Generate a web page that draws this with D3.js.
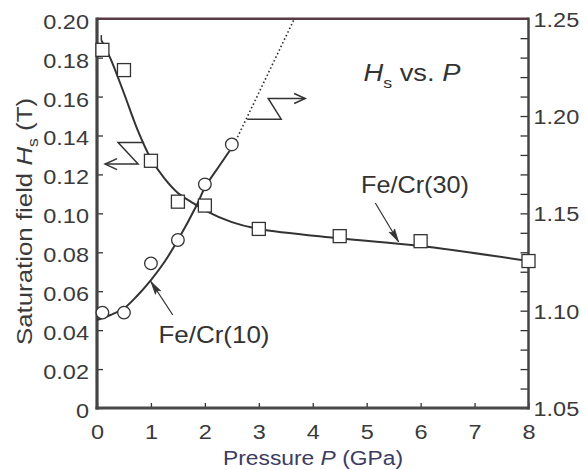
<!DOCTYPE html>
<html><head><meta charset="utf-8">
<script src="https://cdn.jsdelivr.net/npm/d3@7"></script>
<style>html,body{margin:0;padding:0;background:#fff;} svg{display:block;font-family:"Liberation Sans",Arial,sans-serif;}</style>
</head><body><svg id="c" width="587" height="470"></svg>
<script>
// ---- data ----
const sqPressure = [0.1, 0.5, 1.0, 1.5, 2.0, 3.0, 4.5, 6.0, 8.0];          // Fe/Cr(30), left axis
const sqHs       = [0.184, 0.1736, 0.127, 0.106, 0.104, 0.092, 0.0883, 0.0857, 0.0755];
const ciPressure = [0.1, 0.5, 1.0, 1.5, 2.0, 2.5];                           // Fe/Cr(10), right axis
const ciHs       = [1.099, 1.099, 1.1243, 1.1363, 1.1649, 1.1854];
const fit30P = [0.08, 0.25, 0.5, 0.75, 1.0, 1.25, 1.5, 1.8, 2.0, 2.5, 3.0, 4.5, 6.0, 8.0];
const fit30H = [0.189, 0.1795, 0.1617, 0.143, 0.128, 0.118, 0.1105, 0.105, 0.1015, 0.0955, 0.092, 0.0872, 0.0832, 0.0755];
const fit10P = [0.0, 0.25, 0.5, 0.75, 1.0, 1.25, 1.5, 1.85, 2.0, 2.25, 2.54];
const fit10H = [1.0952, 1.0978, 1.1012, 1.1078, 1.1157, 1.125, 1.1363, 1.1543, 1.1633, 1.1737, 1.1854];
const extrapP = [2.54, 3.66];
const extrapH = [1.1854, 1.25];
const xTicks = [0, 1, 2, 3, 4, 5, 6, 7, 8];
const xTickLabels = ["0", "1", "2", "3", "4", "5", "6", "7", "8"];
const leftTicks = [0, 0.02, 0.04, 0.06, 0.08, 0.10, 0.12, 0.14, 0.16, 0.18, 0.20];
const leftTickLabels = ["0", "0.02", "0.04", "0.06", "0.08", "0.10", "0.12", "0.14", "0.16", "0.18", "0.20"];
const rightMinorTicks = [1.05,1.06,1.07,1.08,1.09,1.10,1.11,1.12,1.13,1.14,1.15,1.16,1.17,1.18,1.19,1.20,1.21,1.22,1.23,1.24,1.25];
const rightTicks = [1.05, 1.10, 1.15, 1.20, 1.25];
const rightTickLabels = ["1.05", "1.10", "1.15", "1.20", "1.25"];

// ---- scales ----
const x  = d3.scaleLinear().domain([0, 8]).range([97, 528.5]);
const yL = d3.scaleLinear().domain([0, 0.2]).range([408, 18.7]);
const yR = d3.scaleLinear().domain([1.05, 1.25]).range([408, 18.7]);
const svg = d3.select('#c');
const ink = '#333';
const txt = '#3a3a3a';

// ---- axes ----
const gL = svg.append('g').attr('transform', `translate(${x(0)},0)`)
  .call(d3.axisLeft(yL).tickValues(leftTicks).tickFormat((d, i) => leftTickLabels[i]).tickSize(-6).tickPadding(8));
gL.selectAll('text').attr('x', 0).attr('dy', '0.45em')
  .attr('transform', 'translate(-8,0) scale(1.12,1)');

const gB = svg.append('g').attr('transform', `translate(0,${yL(0)})`)
  .call(d3.axisBottom(x).tickValues(xTicks).tickFormat((d, i) => xTickLabels[i]).tickSize(-5).tickPadding(16));
gB.selectAll('text').attr('y', 0)
  .attr('transform', 'translate(0,16) scale(1.12,1)');

const gR = svg.append('g').attr('transform', `translate(${x(8)},0)`)
  .call(d3.axisRight(yR).tickValues(rightMinorTicks)
    .tickFormat(d => { const i = rightTicks.findIndex(v => Math.abs(v - d) < 1e-9); return i >= 0 ? rightTickLabels[i] : ''; })
    .tickSize(-8).tickPadding(5));
gR.selectAll('text').attr('x', 0).attr('dy', '0.35em')
  .attr('transform', 'translate(5,0) scale(1.12,1)');

[gL, gB, gR].forEach(g => {
  g.select('.domain').remove();
  g.selectAll('line').attr('stroke', ink).attr('stroke-width', 1.3);
  g.selectAll('text').attr('fill', txt).style('font-size', '21px').style('font-family', '"Liberation Sans",Arial,sans-serif');
});

// ---- frame ----
svg.append('line').attr('x1', x(0)).attr('x2', x(8)).attr('y1', yL(0.2)).attr('y2', yL(0.2))
  .attr('stroke', '#583a47').attr('stroke-width', 2.5);
svg.append('line').attr('x1', x(0) - 1.5).attr('x2', x(8) + 1).attr('y1', yL(0)).attr('y2', yL(0))
  .attr('stroke', '#4a4a4a').attr('stroke-width', 3);
svg.append('line').attr('x1', x(0)).attr('x2', x(0)).attr('y1', yL(0.2) - 1.2).attr('y2', yL(0) + 1.5)
  .attr('stroke', '#444').attr('stroke-width', 3.2);
svg.append('line').attr('x1', x(8)).attr('x2', x(8)).attr('y1', yL(0.2) - 1.2).attr('y2', yL(0) + 1.5)
  .attr('stroke', '#444').attr('stroke-width', 2.5);

// ---- curves ----
const line30 = d3.line().x((d, i) => x(fit30P[i])).y(d => yL(d)).curve(d3.curveCatmullRom.alpha(0.5));
svg.append('path').attr('d', line30(fit30H)).attr('fill', 'none').attr('stroke', ink).attr('stroke-width', 2);
const line10 = d3.line().x((d, i) => x(fit10P[i])).y(d => yR(d)).curve(d3.curveCatmullRom.alpha(0.5));
svg.append('path').attr('d', line10(fit10H)).attr('fill', 'none').attr('stroke', ink).attr('stroke-width', 2);
const lineEx = d3.line().x((d, i) => x(extrapP[i])).y(d => yR(d));
svg.append('path').attr('d', lineEx(extrapH)).attr('fill', 'none').attr('stroke', ink)
  .attr('stroke-width', 1.6).attr('stroke-dasharray', '1.6,2.4');
// short start tick of the Fe/Cr(30) fit
svg.append('line').attr('x1', x(fit30P[0])).attr('x2', x(fit30P[0])).attr('y1', yL(fit30H[0])).attr('y2', yL(fit30H[0]) - 5)
  .attr('stroke', ink).attr('stroke-width', 1.5);

// ---- markers ----
svg.append('g').selectAll('rect').data(sqHs).join('rect')
  .attr('x', (d, i) => x(sqPressure[i]) - 6.5).attr('y', d => yL(d) - 6.5)
  .attr('width', 13).attr('height', 13)
  .attr('fill', '#fff').attr('stroke', ink).attr('stroke-width', 1.3);
svg.append('g').selectAll('circle').data(ciHs).join('circle')
  .attr('cx', (d, i) => x(ciPressure[i])).attr('cy', d => yR(d)).attr('r', 6.3)
  .attr('fill', '#fff').attr('stroke', ink).attr('stroke-width', 1.3);

// ---- annotation helpers ----
function head(tip, from, len, hw, filled) {
  const dx = tip[0] - from[0], dy = tip[1] - from[1], L = Math.hypot(dx, dy);
  const ux = dx / L, uy = dy / L, bx = tip[0] - ux * len, by = tip[1] - uy * len;
  const p1 = [bx - uy * hw, by + ux * hw], p2 = [bx + uy * hw, by - ux * hw];
  if (filled) {
    svg.append('path').attr('d', `M${p1}L${tip}L${p2}L${tip[0] - ux * len * 0.8},${tip[1] - uy * len * 0.8}Z`)
      .attr('fill', ink).attr('stroke', ink).attr('stroke-width', 0.8);
  } else {
    svg.append('path').attr('d', `M${p1}L${tip}L${p2}`).attr('fill', 'none').attr('stroke', ink).attr('stroke-width', 1.5);
  }
}
function poly(pts, w) {
  svg.append('path').attr('d', 'M' + pts.map(p => p.join(',')).join('L')).attr('fill', 'none')
    .attr('stroke', ink).attr('stroke-width', w || 1.5);
}

// left "Z" arrow -> left axis
{
  const t = [x(0.15), yL(0.1253)];
  const pts = [[t[0] + 39, t[1] - 21.5], [t[0] + 13, t[1] - 21.5], [t[0] + 33, t[1]], [t[0], t[1]]];
  poly(pts);
  head(t, [t[0] + 10, t[1]], 12, 5.5, false);
}
// right "Z" arrow -> right axis
{
  const t = [x(3.86), yR(1.209)];
  const pts = [[t[0] - 58, t[1] + 20.7], [t[0] - 24, t[1] + 20.7], [t[0] - 37, t[1]], [t[0], t[1]]];
  poly(pts);
  head(t, [t[0] - 10, t[1]], 11, 5, false);
}
// Fe/Cr(30) pointer
{
  const tip = [x(5.59), yL(0.0854)], tail = [x(5.16), yL(0.1053)];
  poly([tail, tip], 1.2);
  head(tip, tail, 13, 3.2, true);
}
// Fe/Cr(10) pointer
{
  const tip = [x(1.0), yR(1.1149)], tail = [x(1.405), yR(1.0978)];
  poly([tail, tip], 1.2);
  head(tip, tail, 13, 3.2, true);
}

// ---- texts ----
svg.append('text').attr('x', x(4.895)).attr('y', yL(0.1105)).attr('fill', ink)
  .style('font-size', '24px').attr('textLength', 108).attr('lengthAdjust', 'spacingAndGlyphs').text('Fe/Cr(30)');
svg.append('text').attr('x', x(1.14)).attr('y', yL(0.0335)).attr('fill', ink)
  .style('font-size', '24px').attr('textLength', 111).attr('lengthAdjust', 'spacingAndGlyphs').text('Fe/Cr(10)');

const hv = svg.append('text').attr('x', x(4.94)).attr('y', yL(0.168)).attr('fill', ink).style('font-size', '23px')
  .attr('textLength', 97).attr('lengthAdjust', 'spacingAndGlyphs');
hv.append('tspan').style('font-style', 'italic').text('H');
hv.append('tspan').attr('dy', 7).style('font-size', '15px').text('s');
hv.append('tspan').attr('dy', -7).text(' vs. ');
hv.append('tspan').style('font-style', 'italic').text('P');

const xt = svg.append('text').attr('x', 223).attr('y', 465).attr('fill', '#3c3c62').style('font-size', '20px')
  .attr('textLength', 180).attr('lengthAdjust', 'spacingAndGlyphs');
xt.append('tspan').text('Pressure ');
xt.append('tspan').style('font-style', 'italic').text('P');
xt.append('tspan').text(' (GPa)');

const yt = svg.append('text').attr('transform', 'translate(32,345) rotate(-90)').attr('x', 0).attr('y', 0)
  .attr('fill', txt).style('font-size', '22px').attr('textLength', 247).attr('lengthAdjust', 'spacingAndGlyphs');
yt.append('tspan').text('Saturation field ');
yt.append('tspan').style('font-style', 'italic').text('H');
yt.append('tspan').attr('dy', 6).style('font-size', '15px').text('s');
yt.append('tspan').attr('dy', -6).text(' (T)');
</script></body></html>
